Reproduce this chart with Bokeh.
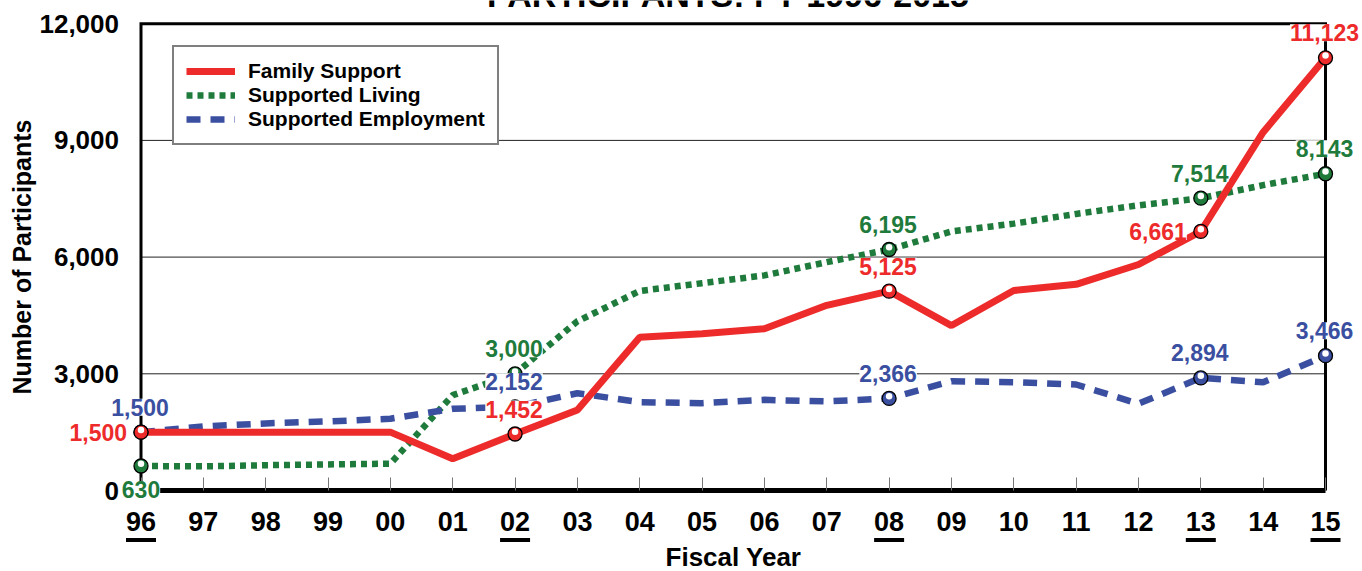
import math
from bokeh.plotting import figure
from bokeh.models import (Range1d, FixedTicker, NumeralTickFormatter, Label,
                          BoxAnnotation, Legend, LegendItem)
from bokeh.embed import file_html
from bokeh.resources import INLINE

# ---------------- data ----------------
years = ["96", "97", "98", "99", "00", "01", "02", "03", "04", "05",
         "06", "07", "08", "09", "10", "11", "12", "13", "14", "15"]
family_support = [1500, 1500, 1500, 1500, 1500, 815, 1452, 2070, 3940, 4030,
                  4160, 4760, 5125, 4240, 5140, 5300, 5810, 6661, 9210, 11123]
supported_living = [630, 620, 650, 670, 690, 2450, 3000, 4350, 5130, 5330,
                    5530, 5870, 6195, 6660, 6860, 7110, 7330, 7514, 7850, 8143]
supported_employment = [1500, 1645, 1725, 1775, 1845, 2100, 2152, 2500, 2270, 2245,
                        2330, 2290, 2366, 2810, 2785, 2725, 2230, 2894, 2780, 3466]
series_names = ["Family Support", "Supported Living", "Supported Employment"]
y_ticks = [0, 3000, 6000, 9000, 12000]
highlight_years = ["96", "02", "08", "13", "15"]
title_text = "PARTICIPANTS: FY 1996-2015"
x_title = "Fiscal Year"
y_title = "Number of Participants"

# ---------------- styles / layout ----------------
RED = "#EE2B2B"
GREEN = "#1F7B3C"
BLUE = "#3B4FA1"
FONT = "Liberation Sans"

W, H = 1362, 571
X0_PX, X1_PX = 140.5, 1325.0      # pixel of first / last year
Y0_PX, YTOP_PX = 490.0, 23.2      # pixel of 0 / top tick
xs = list(range(len(years)))
Y_TOP = y_ticks[-1]
px_per_x = (X1_PX - X0_PX) / (xs[-1] - xs[0])
px_per_y = (Y0_PX - YTOP_PX) / Y_TOP
x_start = xs[0] - X0_PX / px_per_x
x_end = xs[-1] + (W - X1_PX) / px_per_x
y_start = -(H - Y0_PX) / px_per_y
y_end = Y_TOP + YTOP_PX / px_per_y

p = figure(width=W, height=H, x_range=Range1d(x_start, x_end), y_range=Range1d(y_start, y_end),
           output_backend="svg", toolbar_location=None,
           min_border_left=0, min_border_right=0, min_border_top=0, min_border_bottom=0)
p.outline_line_color = None
p.background_fill_color = "white"
p.border_fill_color = "white"

# x axis, fixed at y = 0
xa = p.xaxis[0]
xa.fixed_location = 0
xa.ticker = FixedTicker(ticks=xs)
xa.major_label_overrides = {i: years[i] for i in xs}
xa.bounds = (xs[0], xs[-1])
xa.axis_line_width = 5
xa.axis_line_color = "black"
xa.major_tick_in = 13
xa.major_tick_out = 0
xa.major_tick_line_color = "#777777"
xa.major_tick_line_width = 1
xa.minor_tick_line_color = None
xa.major_label_standoff = 21
xa.major_label_text_font = FONT
xa.major_label_text_font_style = "bold"
xa.major_label_text_font_size = "27px"
xa.major_label_text_color = "black"
xa.axis_label = x_title
xa.axis_label_standoff = 8
xa.axis_label_text_font = FONT
xa.axis_label_text_font_style = "bold"
xa.axis_label_text_font_size = "26px"
xa.axis_label_text_color = "black"

# y axis, fixed at first year
ya = p.yaxis[0]
ya.fixed_location = xs[0]
ya.ticker = FixedTicker(ticks=y_ticks)
ya.formatter = NumeralTickFormatter(format="0,0")
ya.bounds = (0, Y_TOP)
ya.axis_line_color = None
ya.major_tick_line_color = None
ya.major_tick_in = 0
ya.major_tick_out = 0
ya.minor_tick_line_color = None
ya.major_label_standoff = 22
ya.major_label_text_font = FONT
ya.major_label_text_font_style = "bold"
ya.major_label_text_font_size = "26px"
ya.major_label_text_color = "black"
ya.axis_label = y_title
ya.axis_label_standoff = 1
ya.axis_label_text_font = FONT
ya.axis_label_text_font_style = "bold"
ya.axis_label_text_font_size = "25px"
ya.axis_label_text_color = "black"

p.xgrid.visible = False
p.ygrid.visible = False

# horizontal reference lines between the first and last year
grid_y = y_ticks[1:-1]
p.segment(x0=[xs[0]] * len(grid_y), x1=[xs[-1]] * len(grid_y), y0=grid_y, y1=grid_y,
          line_color="#222222", line_width=1)

# box (left, top, right)
p.line(x=[xs[0], xs[0], xs[-1], xs[-1]], y=[0, Y_TOP, Y_TOP, 0],
       line_color="black", line_width=3, line_join="miter")

# series lines
g = p.line(xs, supported_living, line_color=GREEN, line_width=6.5, line_dash="6 5", line_cap="butt")
b = p.line(xs, supported_employment, line_color=BLUE, line_width=6.5, line_dash="14 10", line_cap="butt")
r = p.line(xs, family_support, line_color=RED, line_width=7)

idx = [years.index(yv) for yv in highlight_years]
dy = 2.2 / px_per_y
series = [(supported_living, GREEN), (supported_employment, BLUE), (family_support, RED)]
for vals, col in series:
    mx = [xs[i] for i in idx]
    my = [vals[i] for i in idx]
    p.scatter(mx, my, size=14, fill_color=col, line_color="black", line_width=1.3)
    p.scatter(mx, [v + dy for v in my], size=6.5, fill_color="white", line_color=None)

# value labels
placement = {
    RED: {"96": "left", "13": "left"},
    GREEN: {"96": "below"},
    BLUE: {},
}
for vals, col in [(supported_employment, BLUE), (supported_living, GREEN), (family_support, RED)]:
    for i in idx:
        yr = years[i]
        place = placement[col].get(yr, "above")
        if place == "above":
            kw = dict(x_offset=-1, y_offset=25, text_align="center", text_baseline="alphabetic")
        elif place == "left":
            kw = dict(x_offset=-14, y_offset=0, text_align="right", text_baseline="middle")
        else:
            kw = dict(x_offset=0, y_offset=-24, text_align="center", text_baseline="middle")
        p.add_layout(Label(x=xs[i], y=vals[i], text=f"{vals[i]:,}", text_color=col,
                           text_font=FONT, text_font_style="bold", text_font_size="23px",
                           background_fill_color="white", **kw))

# underlines beneath highlighted years
ul_top = -(537.5 - Y0_PX) / px_per_y
ul_bot = -(541.5 - Y0_PX) / px_per_y
half = 15 / px_per_x
for i in idx:
    p.add_layout(BoxAnnotation(left=xs[i] - half, right=xs[i] + half, bottom=ul_bot, top=ul_top,
                               fill_color="black", fill_alpha=1.0, line_color=None))

# chart title (cropped at the top edge, as in the source image)
p.add_layout(Label(x=(xs[0] + xs[-1]) / 2, y=Y_TOP + (YTOP_PX - 7) / px_per_y,
                   x_offset=-5, y_offset=13,
                   text=title_text, text_align="center", text_baseline="alphabetic",
                   text_font=FONT, text_font_style="bold", text_font_size="34px", text_color="black"))

# legend
legend = Legend(items=[LegendItem(label=series_names[0], renderers=[r]),
                       LegendItem(label=series_names[1], renderers=[g]),
                       LegendItem(label=series_names[2], renderers=[b])],
                location=(172, 426))
legend.label_text_font = FONT
legend.label_text_font_style = "bold"
legend.label_text_font_size = "21px"
legend.label_text_color = "black"
legend.border_line_color = "black"
legend.border_line_width = 2
legend.background_fill_color = "white"
legend.background_fill_alpha = 1.0
legend.glyph_width = 49
legend.glyph_height = 20
legend.label_height = 20
legend.label_standoff = 13
legend.padding = 12
legend.spacing = 0
legend.margin = 0
p.add_layout(legend)

open("out.html", "w").write(file_html(p, INLINE))
